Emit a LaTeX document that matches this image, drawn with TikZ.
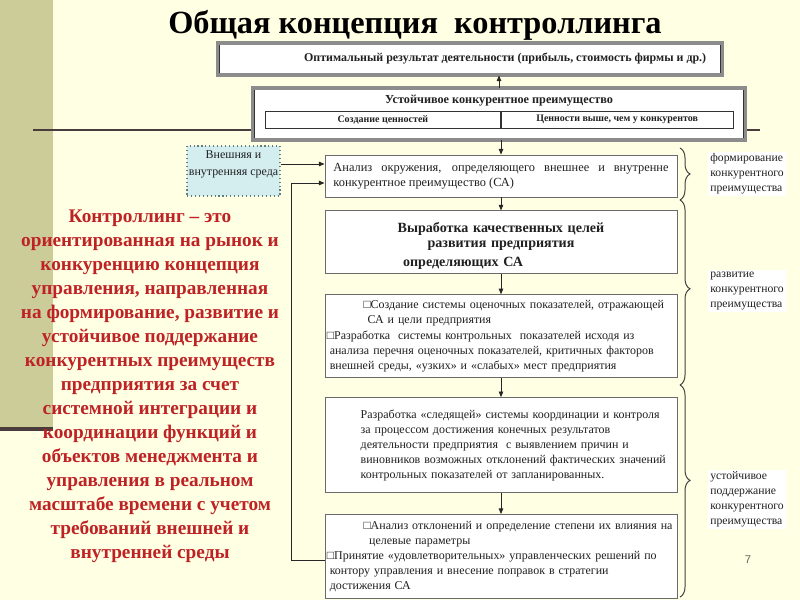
\documentclass[tikz,border=0pt]{standalone}
\usepackage{fontspec}
\setmainfont{Liberation Serif}
\newfontfamily\pagefont{Liberation Sans}
\usepackage{xcolor}
\definecolor{slideBg}{HTML}{FFFFE3}
\definecolor{bandOlive}{HTML}{CCCC99}
\definecolor{ruleDark}{HTML}{4A3C3C}
\definecolor{envCyan}{HTML}{D4EEF0}
\definecolor{envEdge}{HTML}{5E7E82}
\definecolor{boxEdge}{HTML}{6A6A6A}
\definecolor{defRed}{HTML}{BE2224}
\definecolor{darkText}{HTML}{202020}
\usetikzlibrary{
    arrows.meta,
    decorations.pathreplacing,
    positioning,
    calc
}
\tikzset{
    % Framed boxes of the result level
    frame box/.style={
        draw=black!80,
        line width=0.6pt,
        double=black!45,
        double distance=2.2pt,
        fill=white,
        inner sep=0pt,
        text=darkText,
    },
    % Table cells inside the advantage box
    cell/.style={
        draw=black!80,
        line width=0.5pt,
        fill=white,
        minimum height=0.425cm,
        inner sep=0pt,
        text=darkText,
        font=\bfseries\fontsize{7.1}{8}\selectfont,
    },
    % Process boxes of the control loop
    process/.style={
        draw=boxEdge,
        line width=0.6pt,
        fill=white,
        text=darkText,
        font=\fontsize{8.5}{10.7}\selectfont,
        minimum width=8.8cm,
        text width=8.7cm,
        inner xsep=0.05cm,
        inner ysep=1pt,
        align=left,
    },
    % Environment box - dotted cyan
    env box/.style={
        draw=envEdge,
        dotted,
        line width=0.8pt,
        fill=envCyan,
        text=darkText,
        font=\fontsize{8.5}{12}\selectfont,
        minimum width=2.325cm,
        minimum height=1.25cm,
        align=center,
        inner sep=1pt,
    },
    % Notes to the right of the braces
    side note/.style={
        anchor=west,
        fill=white,
        text=darkText,
        font=\fontsize{8.3}{10.6}\selectfont,
        align=left,
        inner sep=1.5pt,
    },
    % Flow arrow
    arrow/.style={
        -{Triangle[length=4pt, width=3.2pt]},
        line width=0.6pt,
        draw=black!85,
    },
    % Curly braces
    brace line/.style={
        decorate,
        decoration={brace, amplitude=0.25cm},
        line width=0.7pt,
        draw=black!75,
    },
}

\begin{document}
\begin{tikzpicture}[x=0.025cm, y=-0.025cm]
    % slide background
    \fill[slideBg] (0,0) rectangle (800,600);
    \useasboundingbox (0,0) rectangle (800,600);
    \fill[bandOlive] (0,0) rectangle (53,428);
    \draw[ruleDark, line width=2.2pt] (0,429) -- (53,429);
    \draw[ruleDark, line width=1.6pt] (33,130) -- (760,130);

    % title
    \node (title) at (415,25) {\fontsize{23}{26}\selectfont\bfseries Общая концепция\ \ контроллинга};

    % result level
    \node (opt) [frame box, minimum width=12.6cm, minimum height=0.8cm,
        font=\bfseries\fontsize{8.5}{9}\selectfont] at (470,59)
        {\hspace*{50pt}Оптимальный результат деятельности (прибыль, стоимость фирмы и др.)};
    \node (adv) [frame box, minimum width=12.3cm, minimum height=1.3cm] at (499,114) {};
    \node (advTitle) [font=\bfseries\fontsize{8.7}{9}\selectfont, text=darkText] at (499,101)
        {Устойчивое конкурентное преимущество};
    \node (value) [cell, anchor=west, minimum width=5.875cm] at (265,119.5) {Создание ценностей};
    \node (above) [cell, right=0pt of value, minimum width=5.8cm] {Ценности выше, чем у конкурентов};

    % environment
    \node (env) [env box] at (233.5,171)
        {Внешняя и\\внутренняя среда\rule[-11pt]{0pt}{0pt}};

    % process chain
    \node (procA) [process, minimum height=1.05cm, align=justify, text width=8.375cm,
        inner xsep=0.2125cm, font=\fontsize{8.8}{10.7}\selectfont] at (501,176)
        {Анализ окружения, определяющего внешнее и внутренне\linebreak
         конкурентное преимущество (СА)};
    \node (procB) [process, below=0.325cm of procA, minimum height=1.575cm, align=center,
        font=\bfseries\fontsize{10}{10.7}\selectfont]
        {\rule{0pt}{12pt}Выработка качественных целей\\развития предприятия\\[3pt]
         определяющих СА\hspace*{54pt}};
    \node (procC) [process, below=0.5cm of procB, minimum height=2.075cm]
        {\hspace*{26pt}□Создание системы оценочных показателей, отражающей\\
         \hspace*{29pt}СА и цели предприятия\\
         □Разработка\ \ системы контрольных\ \ показателей исходя из\\
         \hspace*{2pt}анализа перечня оценочных показателей, критичных факторов\\
         \hspace*{2pt}внешней среды, «узких» и «слабых» мест предприятия};
    \node (procD) [process, below=0.475cm of procC, minimum height=2.375cm]
        {\hspace*{24pt}Разработка «следящей» системы координации и контроля\\
         \hspace*{24pt}за процессом достижения конечных результатов\\
         \hspace*{24pt}деятельности предприятия\ \ с выявлением причин и\\
         \hspace*{24pt}виновников возможных отклонений фактических значений\\
         \hspace*{24pt}контрольных показателей от запланированных.};
    \node (procE) [process, below=0.525cm of procD, minimum height=2.1cm]
        {\hspace*{26pt}□Анализ отклонений и определение степени их влияния на\\
         \hspace*{30pt}целевые параметры\\
         □Принятие «удовлетворительных» управленческих решений по\\
         \hspace*{2pt}контору управления и внесение поправок в стратегии\\
         \hspace*{2pt}достижения СА};

    % connectors
    \draw [arrow] (adv.north) -- (adv.north |- opt.south);
    \draw [arrow] (procA.north |- adv.south) -- (procA.north);
    \draw [arrow] ([yshift=0.175cm]env.east) -- ([yshift=0.175cm]env.east -| procA.west);
    \draw [arrow] (procA) -- (procB);
    \draw [arrow] (procB) -- (procC);
    \draw [arrow] (procC) -- (procD);
    \draw [arrow] (procD) -- (procE);
    \draw [arrow] ([yshift=-0.1cm]procE.west) -- ++(-33,0)
        |- ([yshift=-0.175cm]procA.west);

    % braces and stage notes
    \coordinate (b1top) at (680,148);
    \coordinate (b1bot) at (680,200);
    \coordinate (b2bot) at (680,385);
    \coordinate (b3bot) at (680,597);
    \draw [brace line] (b1top) -- (b1bot);
    \draw [brace line, decoration={aspect=0.48}] (b1bot) -- (b2bot);
    \draw [brace line, decoration={aspect=0.45}] (b2bot) -- (b3bot);
    \node (formNote) [side note] at (708,174) {формирование\\конкурентного\\преимущества};
    \node (devNote) [side note] at (708,291) {развитие\\конкурентного\\преимущества};
    \node (keepNote) [side note] at (708,499.5) {устойчивое\\поддержание\\конкурентного\\преимущества};

    % definition text
    \node (definition) [text=defRed, align=center, font=\bfseries\fontsize{13.7}{17.07}\selectfont]
        at (150,386)
        {Контроллинг – это\\ориентированная на рынок и\\конкуренцию концепция\\
         управления, направленная\\на формирование, развитие и\\устойчивое поддержание\\
         конкурентных преимуществ\\предприятия за счет\\системной интеграции и\\
         координации функций и\\объектов менеджмента и\\управления в реальном\\
         масштабе времени с учетом\\требований внешней и\\внутренней среды};

    \node (pageNo) [text=black!60, font=\pagefont\fontsize{8}{9}\selectfont] at (748,560) {7};
\end{tikzpicture}
\end{document}
